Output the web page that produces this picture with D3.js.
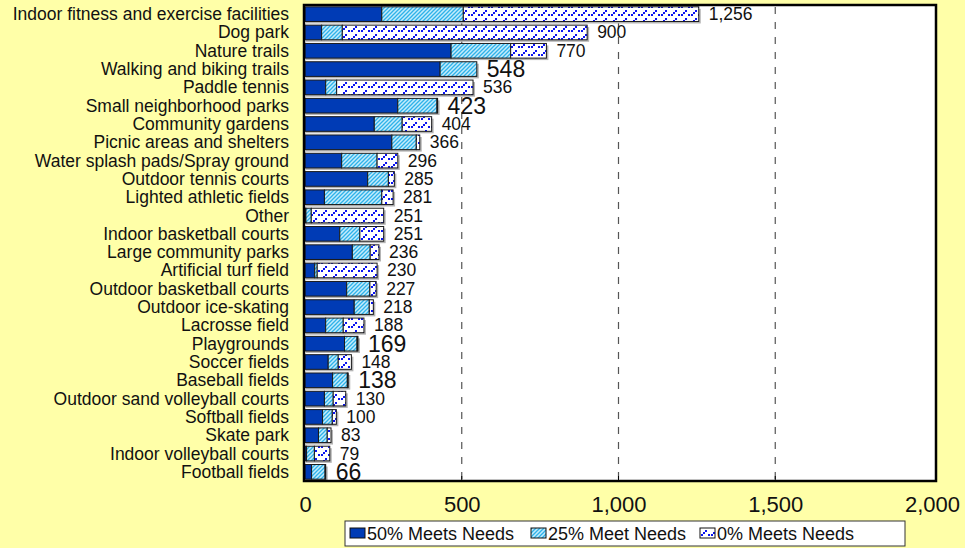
<!DOCTYPE html>
<html>
<head>
<meta charset="utf-8">
<script src="https://cdn.jsdelivr.net/npm/d3@7"></script>
<style>
  html, body { margin: 0; padding: 0; background: #ffffa8; }
  svg { display: block; font-family: "Liberation Sans", Arial, sans-serif; }
</style>
</head>
<body>
<svg id="chart" width="965" height="548"></svg>
<script>
const categories = [
  "Indoor fitness and exercise facilities", "Dog park", "Nature trails",
  "Walking and biking trails", "Paddle tennis", "Small neighborhood parks",
  "Community gardens", "Picnic areas and shelters", "Water splash pads/Spray ground",
  "Outdoor tennis courts", "Lighted athletic fields", "Other",
  "Indoor basketball courts", "Large community parks", "Artificial turf field",
  "Outdoor basketball courts", "Outdoor ice-skating", "Lacrosse field",
  "Playgrounds", "Soccer fields", "Baseball fields",
  "Outdoor sand volleyball courts", "Softball fields", "Skate park",
  "Indoor volleyball courts", "Football fields"
];
const meets50 = [245, 53, 466, 431, 66, 296, 221, 277, 117, 200, 62, 3, 111, 151, 31, 133, 157, 66, 126, 74, 88, 62, 56, 43, 5, 21];
const meets25 = [260, 66, 190, 117, 35, 125, 89, 78, 113, 66, 183, 17, 64, 57, 8, 74, 48, 56, 40, 32, 47, 28, 31, 28, 25, 43];
const meets0  = [751, 781, 114, 0, 435, 2, 94, 11, 66, 19, 36, 231, 76, 28, 191, 20, 13, 66, 3, 42, 3, 40, 13, 12, 49, 2];
const totals  = [1256, 900, 770, 548, 536, 423, 404, 366, 296, 285, 281, 251, 251, 236, 230, 227, 218, 188, 169, 148, 138, 130, 100, 83, 79, 66];
const seriesNames = ["50% Meets Needs", "25% Meet Needs", "0% Meets Needs"];
const xTicks = [0, 500, 1000, 1500, 2000];

const svg = d3.select("#chart");
const defs = svg.append("defs");

// patterns
const pHatch = defs.append("pattern").attr("id", "hatch").attr("patternUnits", "userSpaceOnUse")
  .attr("width", 4).attr("height", 4);
pHatch.append("rect").attr("width", 4).attr("height", 4).attr("fill", "#c4ecfc");
pHatch.append("path").attr("d", "M-1,1 L1,-1 M0,4 L4,0 M3,5 L5,3")
  .attr("stroke", "#2eb2ea").attr("stroke-width", 1.3);

const pDots = defs.append("pattern").attr("id", "dots").attr("patternUnits", "userSpaceOnUse")
  .attr("width", 10).attr("height", 8);
pDots.append("rect").attr("width", 10).attr("height", 8).attr("fill", "#ffffff");
[[1,6],[3,4],[5,2],[8,6]].forEach(([a,b]) =>
  pDots.append("rect").attr("x", a).attr("y", b).attr("width", 2).attr("height", 2).attr("fill", "#0a14f0"));

const fills = ["#003bb5", "url(#hatch)", "url(#dots)"];

const frame = {left: 304, top: 5, right: 936, bottom: 481};
const x = d3.scaleLinear().domain([0, 2000]).range([305, 932]);
const y = d3.scaleBand().domain(categories).range([frame.top, frame.bottom]).paddingInner(0.2).paddingOuter(0.1);

// plot frame background
svg.append("rect").attr("x", frame.left).attr("y", frame.top)
  .attr("width", frame.right - frame.left).attr("height", frame.bottom - frame.top)
  .attr("fill", "#ffffff");

// gridlines
svg.append("g").selectAll("line").data(xTicks.filter(d => d > 0 && d < 2000)).join("line")
  .attr("x1", d => x(d)).attr("x2", d => x(d))
  .attr("y1", frame.top + 2).attr("y2", frame.bottom)
  .attr("stroke", "#555").attr("stroke-width", 1.2).attr("stroke-dasharray", "7,8");

// stacked data
const stackData = categories.map((c, i) => ({cat: c, s0: meets50[i], s1: meets25[i], s2: meets0[i], total: totals[i]}));
const stack = d3.stack().keys(["s0", "s1", "s2"])(stackData);

// shadows
svg.append("g").selectAll("rect").data(stackData).join("rect")
  .attr("x", x(0) + 1).attr("y", d => y(d.cat) + 2)
  .attr("width", d => x(d.s0 + d.s1 + d.s2) - x(0) + 1)
  .attr("height", y.bandwidth())
  .attr("fill", "#b4b4b4");

stack.forEach((layer, li) => {
  svg.append("g").selectAll("rect").data(layer).join("rect")
    .attr("x", d => x(d[0])).attr("y", d => y(d.data.cat))
    .attr("width", d => Math.max(0, x(d[1]) - x(d[0])))
    .attr("height", y.bandwidth())
    .attr("fill", fills[li])
    .attr("stroke", d => (d[1] - d[0]) > 0 ? "#1a1a1a" : "none")
    .attr("stroke-width", 1);
});

// value labels
const emphasized = new Set(["Walking and biking trails", "Small neighborhood parks", "Playgrounds", "Baseball fields", "Football fields"]);
svg.append("g").selectAll("text").data(stackData).join("text")
  .attr("x", d => x(d.s0 + d.s1 + d.s2) + 10)
  .attr("y", d => y(d.cat) + y.bandwidth() / 2 + (emphasized.has(d.cat) ? 8 : 6))
  .attr("font-size", d => emphasized.has(d.cat) ? 23 : 17.5)
  .attr("fill", "#111")
  .text(d => d3.format(",")(d.total));

// frame border
svg.append("rect").attr("x", frame.left).attr("y", frame.top)
  .attr("width", frame.right - frame.left).attr("height", frame.bottom - frame.top)
  .attr("fill", "none").attr("stroke", "#000").attr("stroke-width", 2.5);

// small tick marks inside bottom
svg.append("g").selectAll("line").data(xTicks.filter(d => d > 0 && d < 2000)).join("line")
  .attr("x1", d => x(d)).attr("x2", d => x(d))
  .attr("y1", frame.bottom - 5).attr("y2", frame.bottom)
  .attr("stroke", "#000").attr("stroke-width", 1);

// category labels
svg.append("g").selectAll("text").data(categories).join("text")
  .attr("x", 289).attr("y", d => y(d) + y.bandwidth() / 2 + 6)
  .attr("text-anchor", "end").attr("font-size", 17.5).attr("fill", "#111")
  .text(d => d);

// x axis labels
const axis = d3.axisBottom(x).tickValues(xTicks).tickFormat(d3.format(",")).tickSize(0).tickPadding(15);
const gAxis = svg.append("g").attr("transform", `translate(0,${frame.bottom})`).call(axis);
gAxis.select(".domain").remove();
gAxis.selectAll("text").attr("font-size", 22).attr("fill", "#111")
  .attr("font-family", '"Liberation Sans", Arial, sans-serif');

// legend
const lg = svg.append("g");
lg.append("rect").attr("x", 345).attr("y", 521).attr("width", 560).attr("height", 25)
  .attr("fill", "#fff").attr("stroke", "#333").attr("stroke-width", 1);
const legX = [350, 531, 700];
seriesNames.forEach((name, i) => {
  lg.append("rect").attr("x", legX[i]).attr("y", 528).attr("width", 15).attr("height", 10)
    .attr("fill", fills[i]).attr("stroke", "#111").attr("stroke-width", 1);
  lg.append("text").attr("x", legX[i] + 17).attr("y", 540).attr("font-size", 18).attr("fill", "#111").text(name);
});
</script>
</body>
</html>
